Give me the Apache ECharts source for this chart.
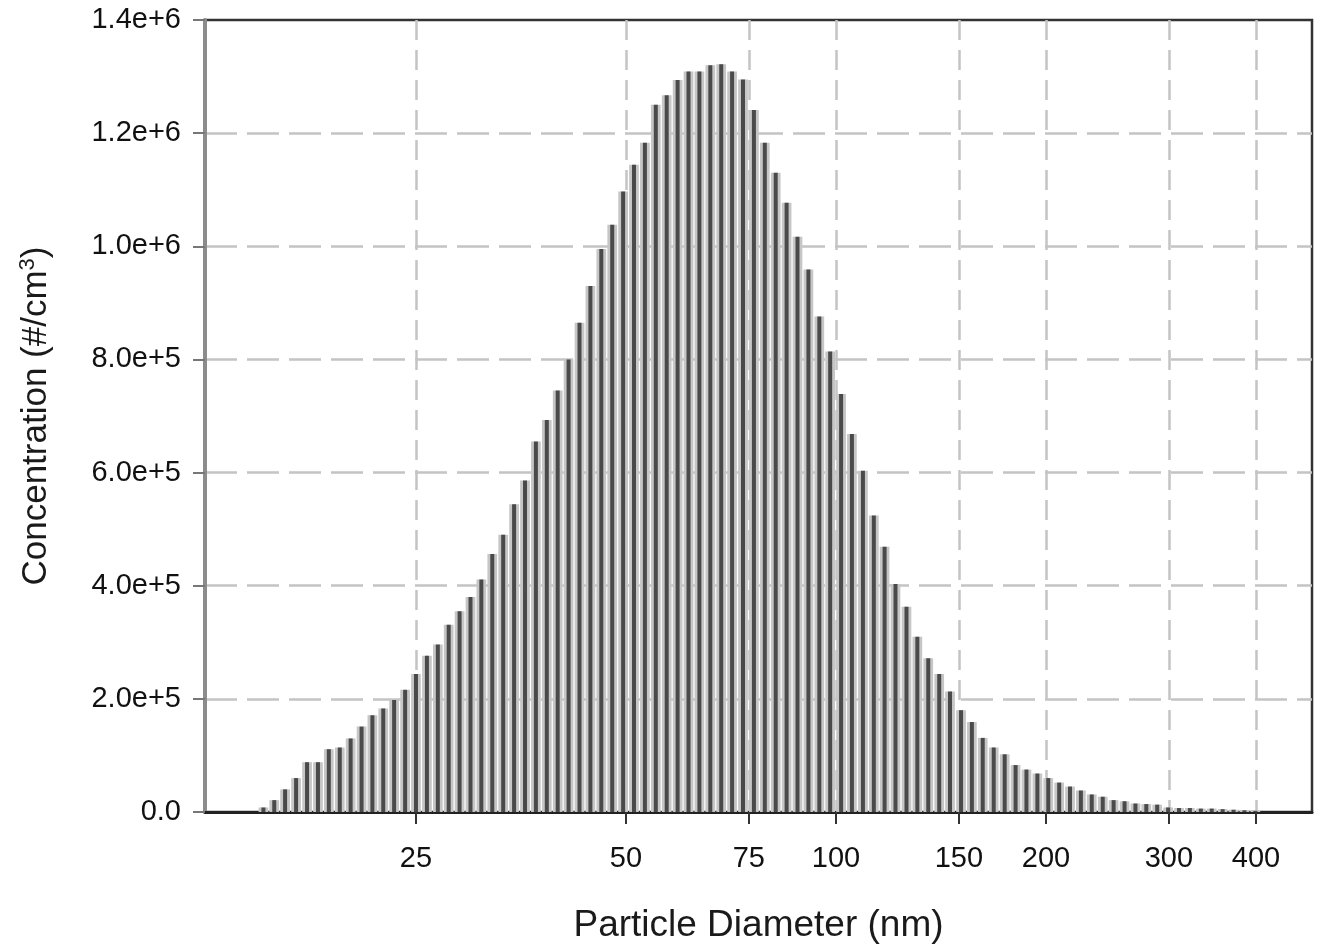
<!DOCTYPE html>
<html>
<head>
<meta charset="utf-8">
<script src="https://cdn.jsdelivr.net/npm/echarts@6/dist/echarts.min.js"></script>
<style>
html,body{margin:0;padding:0;background:#fff;}
#chart{width:1323px;height:950px;}
</style>
</head>
<body>
<div id="chart"></div>
<script>
// Bin midpoint diameters (nm), 64 channels per decade
const diameters = [
  15.11, 15.66, 16.23, 16.83, 17.45, 18.09, 18.75, 19.44, 20.15, 20.89,
  21.65, 22.44, 23.26, 24.12, 25.00, 25.92, 26.87, 27.85, 28.87, 29.93,
  31.02, 32.16, 33.34, 34.56, 35.83, 37.14, 38.50, 39.91, 41.37, 42.89,
  44.46, 46.09, 47.78, 49.53, 51.34, 53.22, 55.17, 57.19, 59.29, 61.46,
  63.71, 66.05, 68.47, 70.97, 73.57, 76.27, 79.06, 81.96, 84.96, 88.07,
  91.30, 94.65, 98.10, 101.7, 105.4, 109.3, 113.3, 117.4, 121.7, 126.2,
  130.8, 135.6, 140.6, 145.7, 151.1, 156.6, 162.3, 168.3, 174.5, 180.9,
  187.5, 194.4, 201.5, 208.9, 216.5, 224.4, 232.6, 241.2, 250.0, 259.2,
  268.7, 278.5, 288.7, 299.3, 310.2, 321.6, 333.4, 345.6, 358.3, 371.4,
  385.0, 399.1
];
// Concentration (#/cm3)
const concentrations = [
  8000, 21000, 40000, 60000, 88000, 88000, 111000, 114000, 130000, 151000,
  171000, 183000, 198000, 216000, 244000, 276000, 296000, 331000, 355000, 380000,
  411000, 456000, 490000, 544000, 586000, 655000, 693000, 745000, 800000, 865000,
  930000, 995000, 1038000, 1097000, 1144000, 1183000, 1250000, 1267000, 1294000, 1309000,
  1309000, 1320000, 1322000, 1309000, 1295000, 1241000, 1183000, 1130000, 1077000, 1017000,
  959000, 876000, 814000, 739000, 668000, 603000, 524000, 469000, 403000, 363000,
  310000, 272000, 244000, 213000, 180000, 159000, 131000, 114000, 102000, 83000,
  75000, 68000, 60000, 52000, 45000, 38000, 31000, 27000, 21000, 19000,
  15000, 14000, 13000, 8000, 7000, 7000, 6000, 6000, 5000, 4000,
  3000, 2000
];
const xTickLabels = [25, 50, 75, 100, 150, 200, 300, 400];
const xRange = [12.46, 481.2];
const yMin = 0, yMax = 1400000, yStep = 200000;
const channelsPerDecade = 64;

const half = 0.5 / channelsPerDecade;
const barData = diameters.map((d, i) => {
  const l = Math.log10(d);
  return [l - half, l + half, concentrations[i], l];
});

const FONT = "'Liberation Sans', Arial, sans-serif";
const chart = echarts.init(document.getElementById('chart'));
chart.setOption({
  backgroundColor: '#fff',
  animation: false,
  grid: {left: 205, right: 11, top: 20, bottom: 138, show: true, borderColor: '#333', borderWidth: 2.5, backgroundColor: 'transparent'},
  xAxis: {
    type: 'value',
    min: Math.log10(xRange[0]),
    max: Math.log10(xRange[1]),
    name: 'Particle Diameter (nm)',
    nameLocation: 'middle',
    nameGap: 95,
    nameTextStyle: {fontFamily: FONT, fontSize: 37, color: '#1a1a1a'},
    axisLine: {show: true, onZero: false, lineStyle: {color: '#222', width: 3}},
    axisTick: {show: true, inside: false, length: 12, lineStyle: {color: '#333', width: 2},
      customValues: xTickLabels.map(v => Math.log10(v))},
    axisLabel: {margin: 32, fontFamily: FONT, fontSize: 29, color: '#111',
      customValues: xTickLabels.map(v => Math.log10(v)),
      formatter: v => String(Math.round(Math.pow(10, v)))},
    splitLine: {show: true, showMinLine: true, showMaxLine: true,
      lineStyle: {color: '#c4c4c4', width: 2.5, type: [20, 10]}}
  },
  yAxis: {
    type: 'value',
    min: yMin, max: yMax, interval: yStep,
    name: 'Concentration (#/cm{sup|3})',
    nameLocation: 'middle',
    nameGap: 150,
    nameRotate: 90,
    nameTextStyle: {fontFamily: FONT, fontSize: 35, color: '#1a1a1a',
      rich: {sup: {fontFamily: FONT, fontSize: 22, color: '#1a1a1a', padding: [0, 0, 16, 0]}}},
    axisLine: {show: true, lineStyle: {color: '#8c8c8c', width: 4}},
    axisTick: {show: true, inside: false, length: 12, lineStyle: {color: '#777', width: 2}},
    axisLabel: {margin: 24, fontFamily: FONT, fontSize: 29, color: '#111',
      formatter: v => v === 0 ? '0.0' : v.toExponential(1)},
    splitLine: {show: true, showMinLine: false, showMaxLine: false,
      lineStyle: {color: '#c4c4c4', width: 2.5, type: [32, 10]}}
  },
  series: [{
    type: 'custom',
    data: barData,
    encode: {x: [0, 1, 3], y: 2},
    renderItem: function (params, api) {
      const top = api.coord([api.value(0), api.value(2)]);
      const bot = api.coord([api.value(1), 0]);
      const c = api.coord([api.value(3), 0]);
      const h = bot[1] - top[1];
      const w = bot[0] - top[0];
      return {
        type: 'group',
        children: [
          {type: 'rect', shape: {x: top[0] + 0.6, y: top[1], width: w - 1.2, height: h},
            style: {fill: '#c6c6c6'}},
          {type: 'rect', shape: {x: c[0] - 2, y: top[1], width: 4, height: h},
            style: {fill: '#4a4a4a'}}
        ]
      };
    }
  }]
});
</script>
</body>
</html>
